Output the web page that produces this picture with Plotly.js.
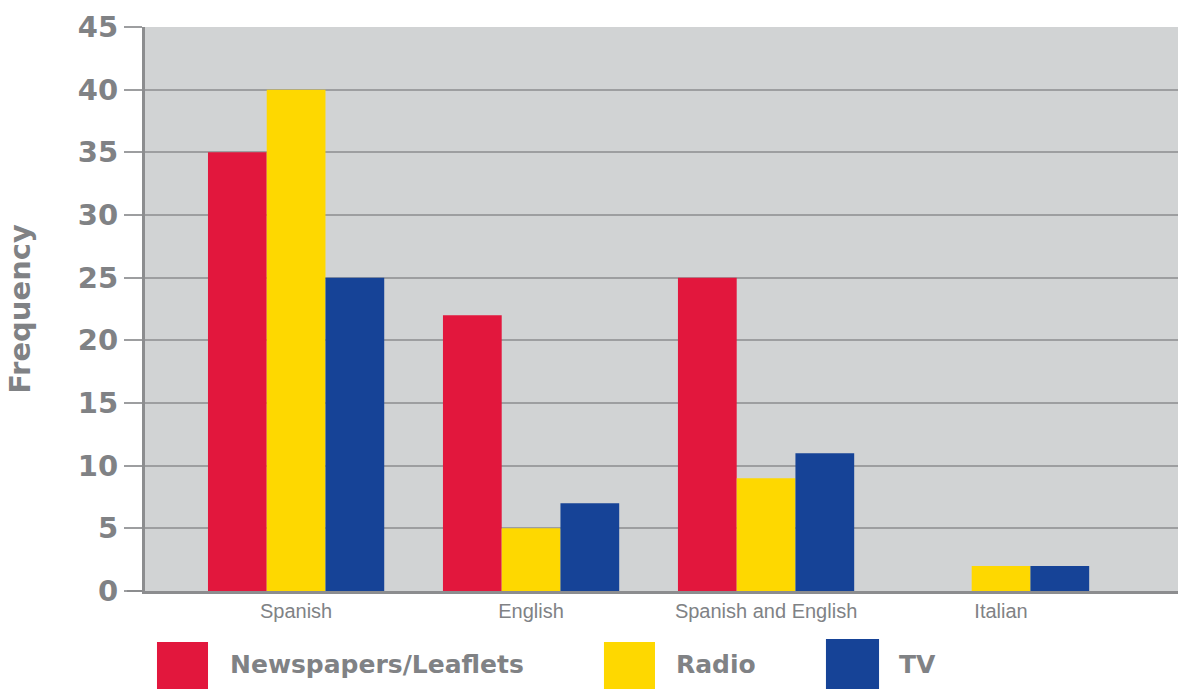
<!DOCTYPE html>
<html>
<head>
<meta charset="utf-8">
<script src="https://cdn.plot.ly/plotly-3.0.1.min.js"></script>
<style>html,body{margin:0;padding:0;background:#fff;}#chart{width:1182px;height:689px;}</style>
</head>
<body>
<div id="chart"></div>
<script>
var categories = ["Spanish", "English", "Spanish and English", "Italian"];
var seriesNames = ["Newspapers/Leaflets", "Radio", "TV"];
var newspapers = [35, 22, 25, 0];
var radio = [40, 5, 9, 2];
var tv = [25, 7, 11, 2];
var yTicks = [0, 5, 10, 15, 20, 25, 30, 35, 40, 45];
var colors = ["#e2173d", "#fed800", "#164397"];
var gray = "#808285";
var values = [newspapers, radio, tv];

var traces = values.map(function (v, i) {
  return {
    type: "bar",
    name: seriesNames[i],
    x: categories,
    y: v,
    marker: {color: colors[i], line: {width: 0}},
    showlegend: false,
    hoverinfo: "x+y+name"
  };
});

// custom large legend squares + labels (legend placement in margin)
var legendBoxes = [
  {x0: 0.0116, x1: 0.0610, y0: -0.0904, y1: -0.1738, tx: 0.0805},
  {x0: 0.4443, x1: 0.4937, y0: -0.0904, y1: -0.1738, tx: 0.5121},
  {x0: 0.6592, x1: 0.7106, y0: -0.0851, y1: -0.1738, tx: 0.7280}
];
var shapes = legendBoxes.map(function (b, i) {
  return {type: "rect", xref: "paper", yref: "paper", x0: b.x0, x1: b.x1, y0: b.y0, y1: b.y1,
          fillcolor: colors[i], line: {width: 0}, layer: "above"};
});
// baseline extension to the left of the plot, as in the reference
shapes.push({type: "line", xref: "paper", yref: "paper", x0: -0.0174, x1: 0, y0: 0, y1: 0,
             line: {color: "#8c8d8f", width: 2}});
var annotations = legendBoxes.map(function (b, i) {
  return {xref: "paper", yref: "paper", x: b.tx, y: -0.131, xanchor: "left", yanchor: "middle",
          text: seriesNames[i], showarrow: false,
          font: {family: "DejaVu Sans", size: 25, color: gray, weight: "bold"}};
});

var layout = {
  width: 1182, height: 689,
  margin: {l: 145, r: 4, t: 27, b: 98, pad: 0},
  paper_bgcolor: "#ffffff",
  plot_bgcolor: "#d1d3d4",
  barmode: "group",
  bargap: 0.25,
  bargroupgap: 0,
  xaxis: {
    type: "category",
    range: [-0.643, 3.753],
    showgrid: false,
    showline: true, linecolor: "#8c8d8f", linewidth: 3,
    ticks: "",
    tickfont: {family: "Liberation Sans", size: 20, color: gray},
    fixedrange: true
  },
  yaxis: {
    range: [0, 45],
    tickvals: yTicks,
    ticktext: yTicks.map(String),
    showgrid: true, gridcolor: "#9d9ea0", gridwidth: 2,
    zeroline: false,
    showline: true, linecolor: "#8c8d8f", linewidth: 3,
    ticks: "outside", ticklen: 18, tickcolor: "#9d9ea0", tickwidth: 2,
    tickfont: {family: "DejaVu Sans", size: 29, color: gray, weight: "bold"},
    title: {text: "Frequency", standoff: 39,
            font: {family: "DejaVu Sans", size: 29, color: gray, weight: "bold"}},
    fixedrange: true
  },
  shapes: shapes,
  annotations: annotations
};

Plotly.newPlot("chart", traces, layout, {displayModeBar: false, staticPlot: false});
</script>
</body>
</html>
